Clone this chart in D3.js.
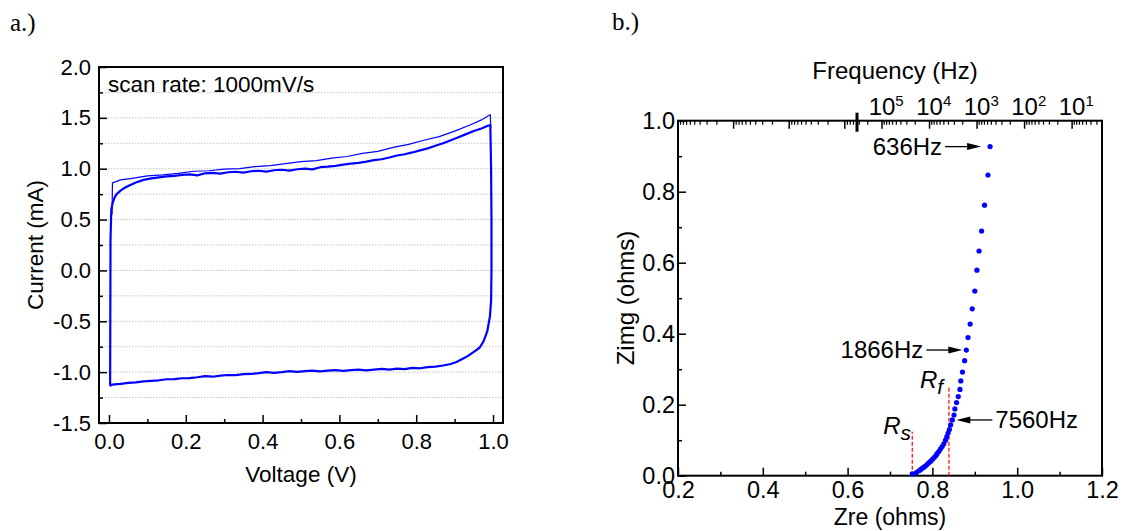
<!DOCTYPE html>
<html>
<head>
<meta charset="utf-8">
<script src="https://cdn.jsdelivr.net/npm/d3@7/dist/d3.min.js"></script>
<style>
  body { margin: 0; background: #fff; }
  text { font-family: "Liberation Sans", Arial, sans-serif; fill: #000; }
  .serif { font-family: "Liberation Serif", "Times New Roman", serif; }
</style>
</head>
<body>
<div id="chart"></div>
<script>
// ---------- panel a: cyclic voltammetry ----------
var cvXTicks = [0, 0.2, 0.4, 0.6, 0.8, 1.0];
var cvXMinor = [0.1, 0.3, 0.5, 0.7, 0.9];
var cvYTicks = [-1.5, -1.0, -0.5, 0.0, 0.5, 1.0, 1.5, 2.0];
var cvYMinor = [-1.25, -0.75, -0.25, 0.25, 0.75, 1.25, 1.75];

// first cycle, forward scan (thin upper curve)
var cycle1V = [0.008, 0.009, 0.03, 0.06, 0.1, 0.14, 0.18, 0.22, 0.26, 0.3, 0.34, 0.38, 0.42, 0.46, 0.5,
  0.54, 0.58, 0.62, 0.66, 0.7, 0.74, 0.78, 0.82, 0.86, 0.9, 0.94, 0.97, 0.99, 0.993, 0.994];
var cycle1I = [0.55, 0.86, 0.89, 0.905, 0.93, 0.94, 0.955, 0.975, 0.98, 0.995, 1.0, 1.02, 1.03, 1.05, 1.07,
  1.08, 1.105, 1.12, 1.15, 1.17, 1.21, 1.24, 1.28, 1.315, 1.37, 1.43, 1.48, 1.525, 1.53, 1.4];

// later cycles, forward scan
var forwardV = [0.003, 0.004, 0.006, 0.01, 0.015, 0.02, 0.03, 0.04, 0.05, 0.07, 0.09, 0.11, 0.13, 0.15, 0.17,
  0.19, 0.21, 0.23, 0.25, 0.27, 0.29, 0.31, 0.33, 0.35, 0.37, 0.39, 0.41, 0.43, 0.45, 0.47, 0.49, 0.51,
  0.53, 0.55, 0.57, 0.59, 0.61, 0.63, 0.65, 0.67, 0.69, 0.71, 0.73, 0.75, 0.77, 0.79, 0.81, 0.83, 0.85,
  0.87, 0.89, 0.91, 0.93, 0.95, 0.97, 0.985, 0.993];
var forwardI = [-1.13, 0.3, 0.6, 0.67, 0.72, 0.75, 0.785, 0.81, 0.83, 0.865, 0.89, 0.905, 0.915, 0.925, 0.93,
  0.94, 0.945, 0.935, 0.955, 0.96, 0.952, 0.965, 0.97, 0.962, 0.975, 0.98, 0.972, 0.985, 0.99, 0.982, 0.995, 1.0,
  0.993, 1.015, 1.02, 1.028, 1.04, 1.05, 1.058, 1.07, 1.085, 1.093, 1.11, 1.13, 1.142, 1.16, 1.18, 1.2, 1.225,
  1.25, 1.28, 1.31, 1.34, 1.37, 1.395, 1.42, 1.43];

// reverse scan
var reverseV = [0.993, 0.995, 0.996, 0.996, 0.995, 0.992, 0.985, 0.975, 0.965, 0.95, 0.935, 0.92, 0.905, 0.89,
  0.87, 0.85, 0.83, 0.81, 0.79, 0.77, 0.75, 0.73, 0.71, 0.69, 0.67, 0.65, 0.63, 0.61, 0.59, 0.57, 0.55, 0.53,
  0.51, 0.49, 0.47, 0.45, 0.43, 0.41, 0.39, 0.37, 0.35, 0.33, 0.31, 0.29, 0.27, 0.25, 0.23, 0.21, 0.19, 0.17,
  0.15, 0.13, 0.11, 0.09, 0.07, 0.05, 0.03, 0.015, 0.005, 0.003];
var reverseI = [1.43, 1.0, 0.5, 0.0, -0.3, -0.45, -0.6, -0.7, -0.76, -0.8, -0.84, -0.87, -0.9, -0.92,
  -0.935, -0.945, -0.95, -0.962, -0.958, -0.97, -0.965, -0.975, -0.968, -0.975, -0.982, -0.975, -0.98, -0.988,
  -0.98, -0.985, -0.993, -0.985, -0.99, -0.998, -0.99, -1.0, -1.008, -1.0, -1.01, -1.018, -1.02, -1.03, -1.028,
  -1.035, -1.045, -1.04, -1.05, -1.058, -1.06, -1.068, -1.07, -1.08, -1.085, -1.09, -1.1, -1.105, -1.115, -1.12,
  -1.125, -1.14];

// ---------- panel b: impedance (Nyquist) ----------
var zXTicks = [0.2, 0.4, 0.6, 0.8, 1.0, 1.2];
var zXMinor = [0.3, 0.5, 0.7, 0.9, 1.1];
var zYTicks = [0.0, 0.2, 0.4, 0.6, 0.8, 1.0];
var zYMinor = [0.1, 0.3, 0.5, 0.7, 0.9];

var zRe = [0.936, 0.931, 0.923, 0.916, 0.910, 0.905, 0.900, 0.894, 0.889, 0.884, 0.880, 0.876, 0.871, 0.867,
  0.865, 0.861, 0.857, 0.853, 0.851, 0.847, 0.843, 0.840, 0.837, 0.834, 0.831, 0.827, 0.823, 0.819, 0.815,
  0.811, 0.808, 0.804, 0.800, 0.796, 0.792, 0.788, 0.784, 0.780, 0.776, 0.772, 0.768, 0.762, 0.7525];
var zImg = [0.927, 0.847, 0.762, 0.689, 0.633, 0.579, 0.520, 0.470, 0.427, 0.389, 0.354, 0.324, 0.292, 0.267,
  0.243, 0.223, 0.206, 0.188, 0.171, 0.157, 0.143, 0.130, 0.120, 0.110, 0.100, 0.090, 0.082, 0.075, 0.068,
  0.062, 0.056, 0.051, 0.046, 0.041, 0.037, 0.032, 0.028, 0.024, 0.021, 0.017, 0.014, 0.009, 0.005];

// frequency labels: text, index of the point, side of the text
var freqNotes = [
  {label: "636Hz", index: 0, side: "left", gap: 9},
  {label: "1866Hz", index: 10, side: "left", gap: 4},
  {label: "7560Hz", index: 19, side: "right", gap: 4}
];
// resistances marked with red dashed lines
var resistances = [
  {name: "s", value: 0.7525, height: 0.124},
  {name: "f", value: 0.839, height: 0.253}
];

// broken top frequency axis: two log segments, high frequency on the left
var freqSegments = [
  {domain: [1e9, 6.3e5], labels: false},
  {domain: [3.2e5, 2.35], labels: true}
];

var svg = d3.select("#chart").append("svg")
    .attr("width", 1143)
    .attr("height", 531);

function inwardAxis(g, axis, major, minor, size, fmt, pad) {
  g.call(axis.tickValues(minor).tickSize(-4).tickSizeOuter(0).tickFormat(""));
  var g2 = g.append("g");
  g2.call(axis.tickValues(major).tickSize(-8).tickSizeOuter(0).tickFormat(fmt).tickPadding(pad));
  g.selectAll(".domain").remove();
  g.selectAll("line").attr("stroke", "#000").attr("stroke-width", 1.5);
  g.selectAll("text").style("font-size", size + "px").attr("fill", "#000")
    .style("font-family", "'Liberation Sans', Arial, sans-serif");
  return g2;
}

// ===== panel a =====
var cvX = d3.scaleLinear().domain([-0.026, 1.026]).range([99, 503]);
var cvY = d3.scaleLinear().domain([-1.5, 2.0]).range([423, 67]);
var fmt1 = function(d) { return d.toFixed(1); };

svg.append("text").attr("class", "serif").attr("x", 10).attr("y", 31)
    .style("font-size", "25px").text("a.)");

svg.append("g").selectAll("line")
  .data(cvYTicks.concat(cvYMinor).filter(function(d) { return d > -1.5 && d < 2.0; }))
  .enter().append("line")
    .attr("x1", cvX.range()[0]).attr("x2", cvX.range()[1])
    .attr("y1", function(d) { return cvY(d); }).attr("y2", function(d) { return cvY(d); })
    .attr("stroke", "#c4c4c4").attr("stroke-width", 1).attr("stroke-dasharray", "1.5,1.5");

var cvLine = d3.line()
    .x(function(d) { return cvX(d[0]); })
    .y(function(d) { return cvY(d[1]); });

svg.append("path").datum(d3.zip(cycle1V, cycle1I))
    .attr("fill", "none").attr("stroke", "#0000ff").attr("stroke-width", 1.2)
    .attr("d", cvLine);
svg.append("path").datum(d3.zip(forwardV, forwardI).concat(d3.zip(reverseV, reverseI)))
    .attr("fill", "none").attr("stroke", "#0000ff").attr("stroke-width", 2.2)
    .attr("stroke-linejoin", "round")
    .attr("d", cvLine);

inwardAxis(svg.append("g").attr("transform", "translate(0," + cvY.range()[0] + ")"),
    d3.axisBottom(cvX), cvXTicks, cvXMinor, 22, fmt1, 10);
inwardAxis(svg.append("g").attr("transform", "translate(" + cvX.range()[0] + ",0)"),
    d3.axisLeft(cvY), cvYTicks, cvYMinor, 22, fmt1, 8);

svg.append("rect")
    .attr("x", cvX.range()[0]).attr("y", cvY.range()[1])
    .attr("width", cvX.range()[1] - cvX.range()[0])
    .attr("height", cvY.range()[0] - cvY.range()[1])
    .attr("fill", "none").attr("stroke", "#000").attr("stroke-width", 2);

svg.append("text").attr("x", 108).attr("y", 92)
    .style("font-size", "22.5px").text("scan rate: 1000mV/s");
svg.append("text").attr("x", 301).attr("y", 482).attr("text-anchor", "middle")
    .style("font-size", "22.5px").text("Voltage (V)");
svg.append("text").attr("transform", "translate(43,245) rotate(-90)").attr("text-anchor", "middle")
    .style("font-size", "22.5px").text("Current (mA)");

// ===== panel b =====
var zX = d3.scaleLinear().domain([0.2, 1.2]).range([678, 1102]);
var zY = d3.scaleLinear().domain([0, 1.0]).range([475.7, 120.7]);

svg.append("text").attr("class", "serif").attr("x", 612).attr("y", 30)
    .style("font-size", "25px").text("b.)");

inwardAxis(svg.append("g").attr("transform", "translate(0," + zY.range()[0] + ")"),
    d3.axisBottom(zX), zXTicks, zXMinor, 23.5, fmt1, 6);
inwardAxis(svg.append("g").attr("transform", "translate(" + zX.range()[0] + ",0)"),
    d3.axisLeft(zY), zYTicks, zYMinor, 23.5, fmt1, 3);

// top frequency axis
var breakX = 856;
var segRanges = [[zX.range()[0], breakX], [breakX + 2, zX.range()[1]]];
var topAxis = svg.append("g").attr("transform", "translate(0," + zY.range()[1] + ")");
freqSegments.forEach(function(seg, i) {
  var s = d3.scaleLog().domain(seg.domain).range(segRanges[i]);
  var all = s.ticks();
  var majors = all.filter(function(d) { return Math.abs(Math.log10(d) - Math.round(Math.log10(d))) < 1e-9; });
  var minors = all.filter(function(d) { return majors.indexOf(d) < 0; });
  topAxis.selectAll(null).data(minors).enter().append("line")
      .attr("x1", s).attr("x2", s).attr("y1", 0).attr("y2", 4)
      .attr("stroke", "#000").attr("stroke-width", 1.2);
  topAxis.selectAll(null).data(majors).enter().append("line")
      .attr("x1", s).attr("x2", s).attr("y1", 0).attr("y2", 8)
      .attr("stroke", "#000").attr("stroke-width", 1.5);
  if (seg.labels) {
    var t = topAxis.selectAll(null).data(majors).enter().append("text")
        .attr("x", function(d) { return s(d) - 0.556 * 24; })
        .attr("y", -6)
        .style("font-size", "24px");
    t.append("tspan").text("10");
    t.append("tspan").attr("dy", -9).style("font-size", "15px")
        .text(function(d) { return Math.round(Math.log10(d)); });
  }
});
topAxis.append("line").attr("x1", breakX + 1).attr("x2", breakX + 1).attr("y1", -8).attr("y2", 11)
    .attr("stroke", "#000").attr("stroke-width", 3);

svg.append("rect")
    .attr("x", zX.range()[0]).attr("y", zY.range()[1])
    .attr("width", zX.range()[1] - zX.range()[0])
    .attr("height", zY.range()[0] - zY.range()[1])
    .attr("fill", "none").attr("stroke", "#000").attr("stroke-width", 2);

// resistance markers
resistances.forEach(function(r) {
  svg.append("line")
      .attr("x1", zX(r.value)).attr("x2", zX(r.value))
      .attr("y1", zY(0)).attr("y2", zY(r.height))
      .attr("stroke", "#ff0000").attr("stroke-width", 1.2).attr("stroke-dasharray", "4,2");
  var t = svg.append("text")
      .attr("x", zX(r.value) - 29).attr("y", zY(r.height) + 2)
      .style("font-size", "24px").style("font-style", "italic");
  t.append("tspan").text("R");
  t.append("tspan").attr("dy", 6).style("font-size", "21px").text(r.name);
});

svg.append("g").selectAll("circle")
  .data(d3.zip(zRe, zImg))
  .enter().append("circle")
    .attr("cx", function(d) { return zX(d[0]); })
    .attr("cy", function(d) { return zY(d[1]); })
    .attr("r", 2.6)
    .attr("fill", "#0000ff");

// frequency annotations with arrows pointing at the marked point
freqNotes.forEach(function(n) {
  var px = zX(zRe[n.index]), py = zY(zImg[n.index]);
  var dir = n.side === "left" ? -1 : 1;
  var tip = px + dir * n.gap, tail = tip + dir * 36;
  svg.append("line").attr("x1", tail).attr("x2", tip + dir * 8)
      .attr("y1", py).attr("y2", py).attr("stroke", "#000").attr("stroke-width", 1.3);
  svg.append("path")
      .attr("d", "M" + tip + "," + py + "L" + (tip + dir * 14) + "," + (py - 3.5) +
                 "L" + (tip + dir * 14) + "," + (py + 3.5) + "Z")
      .attr("fill", "#000");
  svg.append("text")
      .attr("x", tail + dir * 3).attr("y", py + 8)
      .attr("text-anchor", n.side === "left" ? "end" : "start")
      .style("font-size", "24px").text(n.label);
});

svg.append("text").attr("x", 895).attr("y", 79).attr("text-anchor", "middle")
    .style("font-size", "24px").text("Frequency (Hz)");
svg.append("text").attr("x", 890).attr("y", 525).attr("text-anchor", "middle")
    .style("font-size", "23px").text("Zre (ohms)");
svg.append("text").attr("transform", "translate(634,298) rotate(-90)").attr("text-anchor", "middle")
    .style("font-size", "24px").text("Zimg (ohms)");
</script>
</body>
</html>
